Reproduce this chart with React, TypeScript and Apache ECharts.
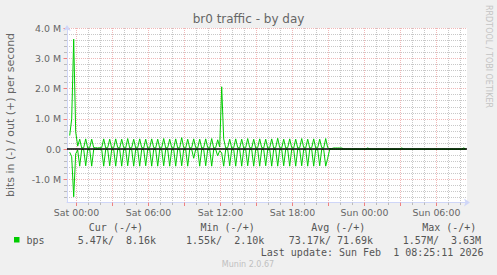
import React, { useEffect, useRef } from 'react';
import * as echarts from 'echarts';

// ---- data (Mbit/s), one sample every 10 minutes; time in minutes relative to Sat 00:00 ----
const sampleStartMin = -44;
const sampleStepMin = 10;

const outMbps: (number | null)[] = [
  null, 0.45, 1.0, 3.63, 0.57, 0.1, 0.33, 0.04, 0.05, 0.34,
  0.04, 0.05, 0.33, 0.05, 0.05, 0.04, 0.05, 0.05, 0.34, 0.04,
  0.05, 0.33, 0.04, 0.05, 0.34, 0.05, 0.04, 0.33, 0.05, 0.04,
  0.35, 0.04, 0.05, 0.33, 0.04, 0.05, 0.34, 0.05, 0.04, 0.33,
  0.04, 0.05, 0.34, 0.05, 0.04, 0.33, 0.04, 0.05, 0.35, 0.04,
  0.05, 0.33, 0.05, 0.04, 0.34, 0.04, 0.05, 0.38, 0.05, 0.04,
  0.33, 0.04, 0.05, 0.34, 0.05, 0.04, 0.33, 0.04, 0.05, 0.34,
  0.05, 0.04, 0.35, 0.04, 0.05, 0.31, 0.07, 2.06, 0.34, 0.04,
  0.05, 0.33, 0.04, 0.05, 0.34, 0.05, 0.04, 0.33, 0.04, 0.05,
  0.35, 0.05, 0.04, 0.33, 0.04, 0.05, 0.34, 0.05, 0.04, 0.33,
  0.04, 0.05, 0.34, 0.04, 0.05, 0.36, 0.05, 0.04, 0.33, 0.04,
  0.05, 0.34, 0.05, 0.04, 0.33, 0.04, 0.05, 0.35, 0.05, 0.04,
  0.33, 0.04, 0.05, 0.34, 0.04, 0.05, 0.33, 0.05, 0.04, 0.35,
  0.05, 0.02, 0.02, 0.04, 0.04, 0.04, 0.04, 0.04, 0.01, 0.01,
  0.008, 0.01, 0.006, 0.008, 0.01, 0.008, 0.006, 0.008, 0.01, 0.008,
  0.04, 0.01, 0.008, 0.006, 0.008, 0.01, 0.008, 0.006, 0.008, 0.01,
  0.008, 0.006, 0.008, 0.01, 0.008, 0.006, 0.008, 0.04, 0.01, 0.008,
  0.006, 0.008, 0.01, 0.008, 0.006, 0.008, 0.01, 0.008, 0.006, 0.008,
  0.01, 0.008, 0.006, 0.008, 0.01, 0.008, 0.006, 0.008, 0.01, 0.008,
  0.006, 0.008, 0.01, 0.008, 0.006, 0.008, 0.01, 0.008, 0.04, 0.008,
];

const inMbps: (number | null)[] = [
  null, -0.1, -0.25, -1.57, -0.15, -0.03, -0.56, -0.01, -0.01, -0.55,
  -0.01, -0.01, -0.56, -0.01, -0.01, -0.01, -0.01, -0.01, -0.56, -0.01,
  -0.01, -0.55, -0.01, -0.01, -0.56, -0.01, -0.01, -0.56, -0.01, -0.01,
  -0.55, -0.01, -0.01, -0.56, -0.01, -0.01, -0.56, -0.01, -0.01, -0.55,
  -0.01, -0.01, -0.56, -0.01, -0.01, -0.56, -0.01, -0.01, -0.55, -0.01,
  -0.01, -0.56, -0.01, -0.01, -0.56, -0.01, -0.01, -0.55, -0.01, -0.01,
  -0.56, -0.01, -0.01, -0.3, -0.01, -0.01, -0.56, -0.01, -0.01, -0.55,
  -0.01, -0.01, -0.56, -0.01, -0.01, -0.22, -0.05, -0.12, -0.56, -0.01,
  -0.01, -0.55, -0.01, -0.01, -0.56, -0.01, -0.01, -0.56, -0.01, -0.01,
  -0.55, -0.01, -0.01, -0.56, -0.01, -0.01, -0.56, -0.01, -0.01, -0.55,
  -0.01, -0.01, -0.56, -0.01, -0.01, -0.56, -0.01, -0.01, -0.55, -0.01,
  -0.01, -0.56, -0.01, -0.01, -0.56, -0.01, -0.01, -0.55, -0.01, -0.01,
  -0.56, -0.01, -0.01, -0.56, -0.01, -0.01, -0.55, -0.01, -0.01, -0.56,
  -0.3, -0.01, -0.006, -0.006, -0.005, -0.006, -0.005, -0.006, -0.005, -0.006,
  -0.005, -0.006, -0.005, -0.006, -0.005, -0.006, -0.005, -0.006, -0.005, -0.006,
  -0.005, -0.006, -0.005, -0.006, -0.005, -0.006, -0.005, -0.006, -0.005, -0.006,
  -0.005, -0.006, -0.005, -0.006, -0.005, -0.006, -0.005, -0.006, -0.005, -0.006,
  -0.005, -0.006, -0.005, -0.006, -0.005, -0.006, -0.005, -0.006, -0.005, -0.006,
  -0.005, -0.006, -0.005, -0.006, -0.005, -0.006, -0.005, -0.006, -0.005, -0.006,
  -0.005, -0.006, -0.005, -0.006, -0.005, -0.006, -0.005, -0.006, -0.005, -0.0055,
];

// ---- axes ----
const xMin = -47.5; // minutes relative to Sat 00:00
const xMax = 1952.5;
const xLabelHours = [0, 6, 12, 18, 24, 30];
const xLabelTexts = ['Sat 00:00', 'Sat 06:00', 'Sat 12:00', 'Sat 18:00', 'Sun 00:00', 'Sun 06:00'];

const yMin = -1.76; // M
const yMax = 4.0;
const yMajorTicks = [-1, 0, 1, 2, 3, 4];
const yMajorLabels = ['-1.0 M', '0.0', '1.0 M', '2.0 M', '3.0 M', '4.0 M'];

// ---- texts ----
const titleText = 'br0 traffic - by day';
const yAxisTitle = 'bits in (-) / out (+) per second';
const sideText = 'RRDTOOL / TOBI OETIKER';
const seriesName = 'bps';
const legendHeaders = ['Cur (-/+)', 'Min (-/+)', 'Avg (-/+)', 'Max (-/+)'];
const legendValues = ['5.47k/  8.16k', '1.55k/  2.10k', '73.17k/ 71.69k', '1.57M/  3.63M'];
const lastUpdate = 'Last update: Sun Feb  1 08:25:11 2026';
const versionText = 'Munin 2.0.67';

const GREEN = '#00CC00';
const FONT = '#666666';
const AXIS = '#CFD6F8';
const MGRID = '#F0B8B8';
const GRID = '#C8C8C8';

export default function App() {
  const ref = useRef<HTMLDivElement>(null);

  useEffect(() => {
    if (!ref.current) return;
    const chart = echarts.init(ref.current, undefined, { renderer: 'svg' });

    // category helper axes for grid lines / ticks / labels (half-minute steps)
    const xCats: string[] = [];
    for (let i = 0; i <= (xMax - xMin) * 2; i++) xCats.push(String(xMin + i * 0.5));
    const minuteAt = (i: number) => xMin + i * 0.5;
    const isHour = (i: number) => minuteAt(i) % 60 === 0;
    const isMinorHour = (i: number) => isHour(i) && (minuteAt(i) / 60) % 3 !== 0;
    const is3h = (i: number) => isHour(i) && (minuteAt(i) / 60) % 3 === 0;
    const is6h = (i: number) => isHour(i) && (minuteAt(i) / 60) % 6 === 0;

    const yCats: string[] = [];
    const cMin = Math.round(yMin * 100);
    const cMax = Math.round(yMax * 100);
    for (let c = cMin; c <= cMax; c++) yCats.push(String(c));
    const centsAt = (i: number) => cMin + i;
    const isMajorY = (i: number) => centsAt(i) % 100 === 0;
    const isMinorY = (i: number) => centsAt(i) % 20 === 0 && centsAt(i) % 100 !== 0;

    const toPairs = (arr: (number | null)[]) =>
      arr.map((v, j) => [sampleStartMin + j * sampleStepMin, v]);

    const mono = { fill: '#555', fontSize: 10, fontFamily: 'DejaVu Sans Mono', verticalAlign: 'middle', textVerticalAlign: 'middle' };

    const option: any = {
      animation: false,
      backgroundColor: '#F0F0F0',
      grid: {
        left: 67,
        top: 28,
        width: 400,
        height: 174.5,
        show: true,
        backgroundColor: '#FFFFFF',
        borderWidth: 0,
      },
      xAxis: [
        {
          type: 'category',
          data: xCats,
          boundaryGap: false,
          position: 'bottom',
          axisLine: {
            show: true,
            onZero: false,
            lineStyle: { color: AXIS, width: 1 },
            symbol: ['none', 'arrow'],
            symbolSize: [6, 6],
            symbolOffset: [0, 3],
          },
          axisTick: { show: true, interval: isMinorHour, length: 2.5, lineStyle: { color: '#BBBBBB' } },
          axisLabel: { show: false },
          splitLine: { show: true, interval: isMinorHour, lineStyle: { color: GRID, type: [1, 1], width: 1 } },
        },
        {
          type: 'category',
          data: xCats,
          boundaryGap: false,
          position: 'bottom',
          axisLine: { show: false, onZero: false },
          axisTick: { show: true, interval: is3h, length: 3.5, lineStyle: { color: '#F08080' } },
          axisLabel: {
            show: true,
            interval: is6h,
            margin: 5,
            color: FONT,
            fontSize: 9.4,
            fontFamily: 'DejaVu Sans',
            formatter: (v: string) => {
              const k = xLabelHours.indexOf(Number(v) / 60);
              return k >= 0 ? xLabelTexts[k] : '';
            },
          },
          splitLine: { show: true, interval: is3h, lineStyle: { color: MGRID, type: [1, 1], width: 1 } },
        },
        { type: 'value', min: xMin, max: xMax, show: false, position: 'bottom' },
      ],
      yAxis: [
        {
          type: 'category',
          data: yCats,
          boundaryGap: false,
          position: 'left',
          axisLine: {
            show: true,
            onZero: false,
            lineStyle: { color: AXIS, width: 1 },
            symbol: ['none', 'arrow'],
            symbolSize: [6, 6],
            symbolOffset: [0, 3],
          },
          axisTick: { show: true, interval: isMinorY, length: 3, lineStyle: { color: '#BBBBBB' } },
          axisLabel: { show: false },
          splitLine: { show: true, interval: isMinorY, lineStyle: { color: GRID, type: [1, 1], width: 1 } },
        },
        {
          type: 'category',
          data: yCats,
          boundaryGap: false,
          position: 'left',
          axisLine: { show: false, onZero: false },
          axisTick: { show: true, interval: isMajorY, length: 3.5, lineStyle: { color: '#F08080' } },
          axisLabel: {
            show: true,
            interval: isMajorY,
            margin: 6,
            color: FONT,
            fontSize: 9.4,
            fontFamily: 'DejaVu Sans',
            formatter: (v: string) => {
              const k = yMajorTicks.indexOf(Number(v) / 100);
              return k >= 0 ? yMajorLabels[k] : '';
            },
          },
          splitLine: { show: true, interval: isMajorY, lineStyle: { color: MGRID, type: [1, 1], width: 1 } },
        },
        { type: 'value', min: yMin, max: yMax, show: false, position: 'left' },
      ],
      series: [
        {
          type: 'line',
          name: 'in',
          xAxisIndex: 2,
          yAxisIndex: 2,
          data: toPairs(inMbps),
          symbol: 'none',
          showSymbol: false,
          connectNulls: false,
          lineStyle: { color: GREEN, width: 1 },
          z: 3,
        },
        {
          type: 'line',
          name: 'out',
          xAxisIndex: 2,
          yAxisIndex: 2,
          data: toPairs(outMbps),
          symbol: 'none',
          showSymbol: false,
          connectNulls: false,
          lineStyle: { color: GREEN, width: 1 },
          z: 3,
          markLine: {
            silent: true,
            symbol: ['none', 'none'],
            label: { show: false },
            lineStyle: { color: '#000000', width: 1.5, type: 'solid' },
            data: [{ yAxis: 0 }],
          },
        },
      ],
      graphic: [
        {
          type: 'text',
          x: 248.5,
          y: 19,
          style: {
            text: titleText,
            fill: FONT,
            fontSize: 12,
            fontFamily: 'DejaVu Sans',
            align: 'center',
            verticalAlign: 'middle',
            textAlign: 'center',
            textVerticalAlign: 'middle',
          },
        },
        {
          type: 'text',
          x: 10,
          y: 115,
          rotation: Math.PI / 2,
          style: {
            text: yAxisTitle,
            fill: FONT,
            fontSize: 11,
            fontFamily: 'DejaVu Sans',
            align: 'center',
            verticalAlign: 'middle',
            textAlign: 'center',
            textVerticalAlign: 'middle',
          },
        },
        {
          type: 'text',
          x: 488.5,
          y: 5,
          rotation: -Math.PI / 2,
          style: {
            text: sideText,
            fill: '#C4C4C4',
            fontSize: 8,
            fontFamily: 'DejaVu Sans',
            align: 'left',
            verticalAlign: 'middle',
            textAlign: 'left',
            textVerticalAlign: 'middle',
          },
        },
        { type: 'rect', shape: { x: 14, y: 237, width: 5.5, height: 5.5 }, style: { fill: GREEN } },
        {
          type: 'text',
          x: 26.5,
          y: 240,
          style: { ...mono, text: seriesName, align: 'left', textAlign: 'left' },
        },
        ...legendHeaders.map((t, k) => ({
          type: 'text',
          x: [88.8, 200.5, 311.2, 422.2][k],
          y: 227.5,
          style: { ...mono, text: t, align: 'left', textAlign: 'left' },
        })),
        ...legendValues.map((t, k) => ({
          type: 'text',
          x: [77.8, 186, 288.8, 402.8][k],
          y: 240,
          style: { ...mono, text: t, align: 'left', textAlign: 'left' },
        })),
        {
          type: 'text',
          x: 483.5,
          y: 252,
          style: { ...mono, text: lastUpdate, align: 'right', textAlign: 'right' },
        },
        {
          type: 'text',
          x: 248,
          y: 264,
          style: { text: versionText, fill: '#C0C0C0', fontSize: 8, fontFamily: 'DejaVu Sans', align: 'center', verticalAlign: 'middle', textAlign: 'center', textVerticalAlign: 'middle' },
        },
      ],
    };

    chart.setOption(option);
    return () => chart.dispose();
  }, []);

  return (
    <div
      ref={ref}
      style={{ position: 'fixed', left: 0, top: 0, width: 497, height: 275 }}
    />
  );
}
